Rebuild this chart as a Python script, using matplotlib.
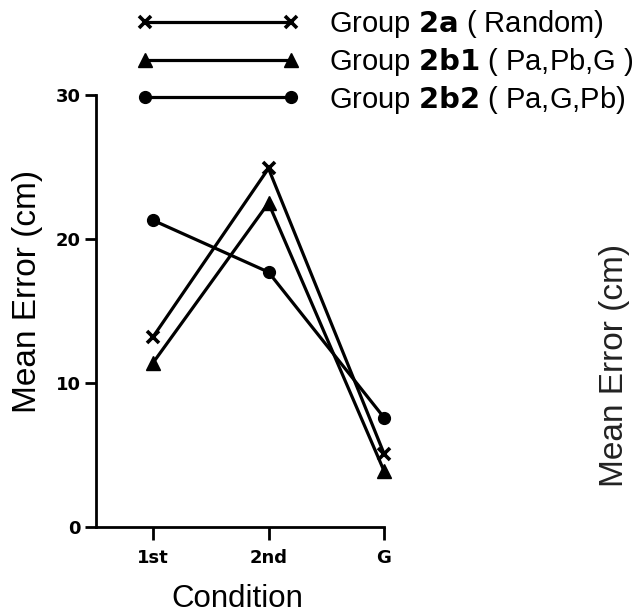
import matplotlib
matplotlib.use("Agg")
import matplotlib.pyplot as plt

# Data
conditions = ["1st", "2nd", "G"]
group_2a = [13.2, 24.9, 5.1]     # Random
group_2b1 = [11.4, 22.5, 3.9]    # Pa, Pb, G
group_2b2 = [21.3, 17.7, 7.6]    # Pa, G, Pb
labels = [r"Group $\mathbf{2a}$ ( Random)",
          r"Group $\mathbf{2b1}$ ( Pa,Pb,G )",
          r"Group $\mathbf{2b2}$ ( Pa,G,Pb)"]
y_ticks = [0, 10, 20, 30]

plt.rcParams['font.family'] = ['Liberation Sans', 'DejaVu Sans']
plt.rcParams['mathtext.fontset'] = 'dejavusans'

fig = plt.figure(figsize=(6.38, 6.15), dpi=100)
ax = fig.add_axes([96 / 638, 1 - 527 / 615, 288 / 638, 432 / 615])

x = [1, 2, 3]
ax.plot(x, group_2a, color='black', lw=2.3, marker='x', ms=9, mew=2.6,
        clip_on=False, label=labels[0])
ax.plot(x, group_2b1, color='black', lw=2.3, marker='^', ms=10,
        clip_on=False, label=labels[1])
ax.plot(x, group_2b2, color='black', lw=2.3, marker='o', ms=8.5,
        clip_on=False, label=labels[2])

ax.set_xlim(1 - 57 / 115.5, 3)
ax.set_ylim(0, 30)
ax.set_xticks(x)
ax.set_xticklabels(conditions, fontsize=13, fontweight='bold', family='DejaVu Sans')
ax.set_yticks(y_ticks)
ax.set_yticklabels([str(v) for v in y_ticks], fontsize=13, fontweight='bold',
                   family='DejaVu Sans')
ax.tick_params(axis='x', direction='out', length=9, width=2, pad=7)
ax.tick_params(axis='y', direction='out', length=8, width=2, pad=3)

for side in ['top', 'right']:
    ax.spines[side].set_visible(False)
for side in ['left', 'bottom']:
    ax.spines[side].set_linewidth(2)

ax.set_xlabel("Condition", fontsize=22.5)
ax.xaxis.set_label_coords(0.49, -0.133)
ax.set_ylabel("Mean Error (cm)", fontsize=24)
ax.yaxis.set_label_coords(-0.185, 0.545)

fig.legend(loc='upper left', bbox_to_anchor=(136 / 638, 1 - 8 / 615),
           frameon=False, fontsize=21, numpoints=2, handlelength=5.63,
           handletextpad=1.0, borderpad=0, borderaxespad=0, labelspacing=0.2)

# partial label visible at the right edge of the scan
fig.text(615 / 638, 1 - 365 / 615, "Mean Error (cm)", rotation=90,
         ha='center', va='center', fontsize=24, color='#222222')

plt.savefig("out.png", dpi=100)
